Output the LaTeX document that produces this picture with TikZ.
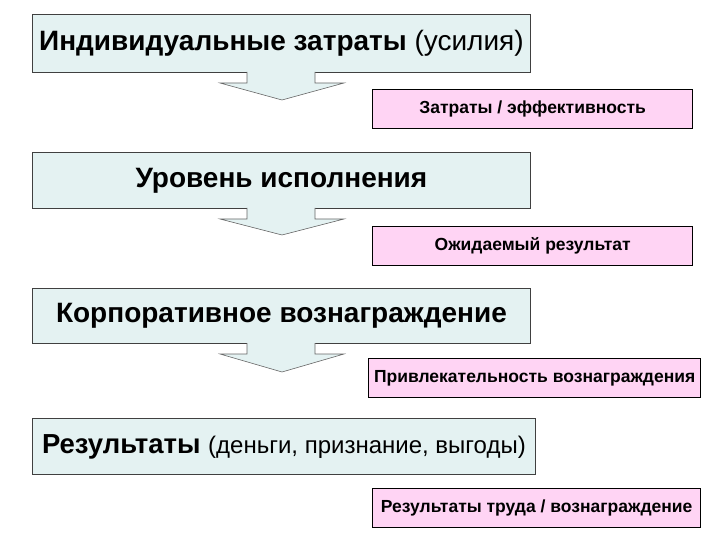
\documentclass[tikz,border=0pt]{standalone}
\usepackage{fontspec}
\setmainfont{Liberation Sans}
\definecolor{cy}{HTML}{E4F2F2}
\definecolor{pk}{HTML}{FFD4F4}
\tikzset{
 bigbox/.style={draw=black!75,line width=0.8pt,fill=cy,minimum width=498pt,inner sep=0pt,anchor=north west},
 pinkbox/.style={draw=black,line width=1.3pt,fill=pk,minimum width=320pt,minimum height=39pt,inner sep=0pt,anchor=north west,font=\fontsize{17.5}{20}\selectfont\bfseries},
 arr/.style={fill=cy,draw=black!60,line width=0.6pt}
}
\newcommand{\downarr}[2]{%
 \fill[cy] (247,#1) -- (247,#1+11) -- (220,#1+11) -- (282,#2) -- (344,#1+11) -- (315,#1+11) -- (315,#1) -- cycle;
 \draw[arr,fill=none] (247,#1) -- (247,#1+11) -- (220,#1+11) -- (282,#2) -- (344,#1+11) -- (315,#1+11) -- (315,#1);}
\begin{document}
\begin{tikzpicture}[x=1pt,y=-1pt]
\useasboundingbox (0,0) rectangle (720,540);
\node[bigbox,minimum height=58pt,font=\fontsize{28}{30}\selectfont] (b1) at (32,14) {\textbf{Индивидуальные затраты} (усилия)};
\node[bigbox,minimum height=56pt,font=\fontsize{28}{30}\selectfont\bfseries] (b2) at (32,152) {Уровень исполнения};
\node[bigbox,minimum height=55pt,font=\fontsize{28}{30}\selectfont\bfseries] (b3) at (32,288) {Корпоративное вознаграждение};
\node[bigbox,minimum width=503pt,minimum height=56pt] (b4) at (32,418) {\fontsize{27.5}{30}\selectfont\textbf{Результаты} \fontsize{24}{28}\selectfont(деньги, признание, выгоды)};
\downarr{72}{100}
\downarr{208}{235}
\downarr{343}{372}
\node[pinkbox] (p1) at (372,89) {Затраты / эффективность};
\node[pinkbox] (p2) at (372,226) {Ожидаемый результат};
\node[pinkbox,minimum width=332pt] (p3) at (368,358) {Привлекательность вознаграждения};
\node[pinkbox,minimum width=328pt] (p4) at (372,488) {Результаты труда / вознаграждение};
\end{tikzpicture}
\end{document}
